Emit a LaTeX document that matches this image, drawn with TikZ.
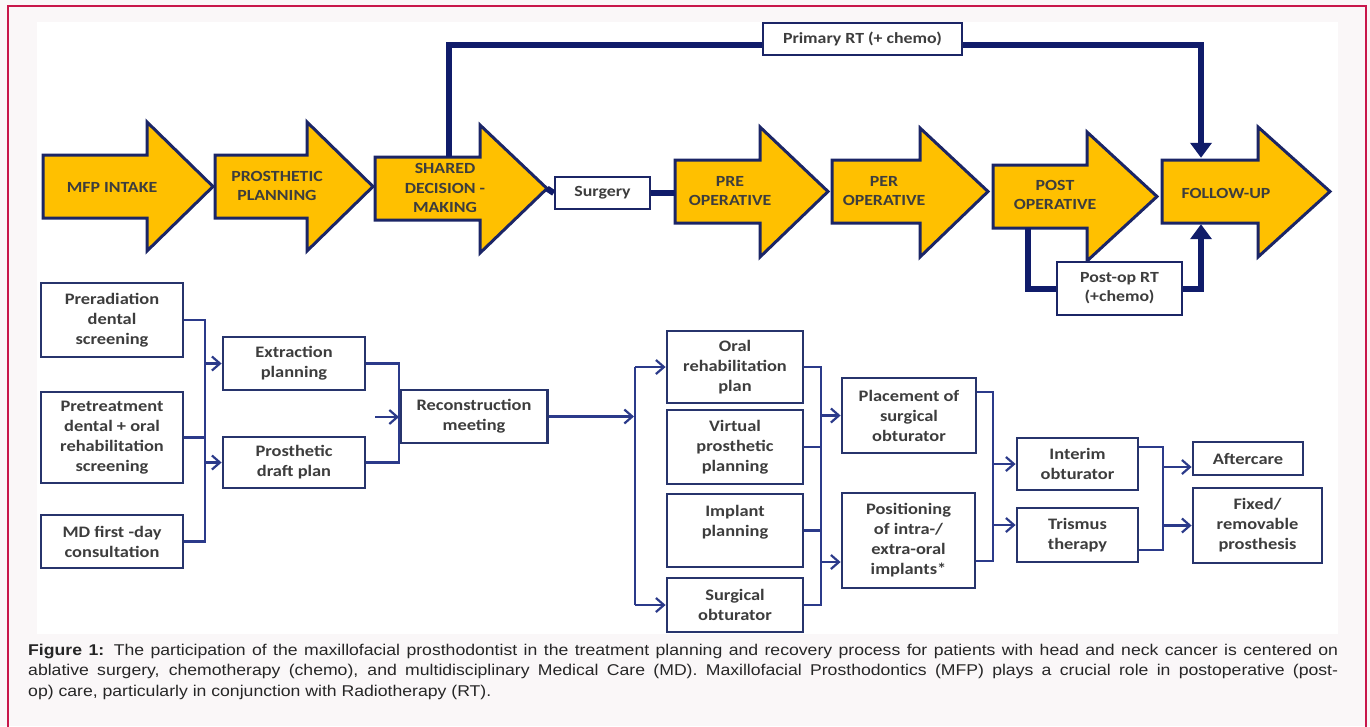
\documentclass[tikz,border=0pt]{standalone}
\usepackage{fontspec}
\usetikzlibrary{arrows.meta,calc}
\newfontfamily\dfont[FakeStretch=1.15]{Carlito}
\newfontfamily\cfont[FakeStretch=1.13]{Liberation Sans}
\definecolor{gold}{HTML}{FFC000}
\definecolor{navy}{HTML}{1B2566}
\definecolor{thickcol}{HTML}{101C6A}
\definecolor{boxc}{HTML}{27346C}
\definecolor{lnc}{HTML}{2B3A8A}
\definecolor{txt}{HTML}{3D3D3D}
\definecolor{bord}{HTML}{C8174B}
\definecolor{pagebg}{HTML}{FAF7F8}
\newcommand\bigarr[8]{%
  \draw[arrowshape] (#2,#3) -- (#5,#3) -- (#5,#6) -- (#8,{(#3+#4)/2}) -- (#5,#7) -- (#5,#4) -- (#2,#4) -- cycle;
  \node[inner sep=0, minimum width={(#5-#2)*1pt}, minimum height={(#4-#3)*1pt}] (#1) at ({(#2+#5)/2},{(#3+#4)/2}) {};
  \coordinate (#1tip) at (#8,{(#3+#4)/2});
}
\begin{document}
\begin{tikzpicture}[x=1pt,y=-1pt,
  arrowshape/.style={fill=gold, draw=navy, line width=3pt, line join=miter},
  atext/.style={text=txt, font=\dfont\bfseries\fontsize{15.5}{19.5}\selectfont, align=center, inner sep=0},
  tbox/.style={draw=navy, fill=white, line width=2.5pt, text=txt, font=\dfont\bfseries\fontsize{15.5}{19}\selectfont, align=center, inner sep=0},
  bbox/.style={draw=boxc, fill=white, line width=2.8pt, text=txt, font=\dfont\bfseries\fontsize{16}{20}\selectfont, align=center, inner sep=0},
  thickc/.style={draw=thickcol, line width=6pt},
  conn/.style={draw=lnc, line width=2.2pt},
  carr/.style={conn, -{Straight Barb[length=8pt,width=14pt]}},
  tarr/.style={thickc, -{Triangle[length=15pt,width=21pt]}}
]
\fill[pagebg] (0,0) rectangle (1370,726);
\useasboundingbox (0,0) rectangle (1370,726);
\fill[white] (37,22) rectangle (1338,634);
\draw[bord, line width=2pt] (8,727) -- (8,6) -- (1366,6) -- (1366,727);

% top flow
\bigarr{a1}{43}{155}{218}{147}{122}{251}{213}
\bigarr{a2}{215}{155}{218}{307}{122}{251}{373}
\bigarr{a3}{375}{157}{220}{480}{125}{253}{547}
\bigarr{a4}{675}{160}{223}{760}{127}{257}{828}
\bigarr{a5}{832}{160}{223}{920}{128}{257}{988}
\bigarr{a6}{993}{165}{228}{1087}{132}{261}{1157}
\bigarr{a7}{1162}{160}{223}{1258}{127}{257}{1330}

\node[atext] (a1t) at (112,187) {MFP INTAKE};
\node[atext] (a2t) at (277,186) {PROSTHETIC\\PLANNING};
\node[atext] (a3t) at (445,188) {SHARED\\DECISION -\\MAKING};
\node[atext] (a4t) at (730,191) {PRE\\OPERATIVE};
\node[atext] (a5t) at (884,191) {PER\\OPERATIVE};
\node[atext] (a6t) at (1055,195) {POST\\OPERATIVE};
\node[atext] (a7t) at (1226,193) {FOLLOW-UP};

\node[tbox, minimum width=199pt, minimum height=32pt] (prim) at (862.5,39) {Primary RT (+ chemo)};
\node[tbox, minimum width=95pt, minimum height=32pt] (surg) at (602.5,193) {Surgery};
\node[tbox, minimum width=125pt, minimum height=53pt] (postop) at (1119.5,288.5) {Post-op RT\\(+chemo)};

\coordinate (sx) at (449,0);
\coordinate (fx) at (1201,0);
\coordinate (px) at (1028,0);
\draw[thickc] (a3.north -| sx) |- ([yshift=-6pt]prim.west);
\draw[tarr] ([yshift=-6pt]prim.east) -| ([yshift=2pt]a7.north -| fx);
\draw[thickc] (a3tip) -- (surg.west);
\draw[thickc] (surg.east) -- (a4.west |- surg.east);
\draw[thickc] (a6.south -| px) |- (postop.west);
\draw[tarr] (postop.east) -| ([yshift=-1pt]a7.south -| fx);

% bottom flow
\node[bbox, minimum width=142pt, minimum height=74pt] (pre) at (112,320) {Preradiation\\dental\\screening};
\node[bbox, minimum width=142pt, minimum height=91pt] (ptr) at (112,437.5) {Pretreatment\\dental + oral\\rehabilitation\\screening};
\node[bbox, minimum width=142pt, minimum height=53pt] (md) at (112,541.5) {MD first -day\\consultation};
\node[bbox, minimum width=142pt, minimum height=53pt] (ext) at (294,363.5) {Extraction\\planning};
\node[bbox, minimum width=142pt, minimum height=51pt] (pdp) at (294,462.5) {Prosthetic\\draft plan};
\node[bbox, minimum width=147pt, minimum height=53pt] (rec) at (474,416.5) {Reconstruction\\meeting};
\node[bbox, minimum width=136pt, minimum height=72pt] (orp) at (735,367) {Oral\\rehabilitation\\plan};
\node[bbox, minimum width=136pt, minimum height=74pt] (vpp) at (735,447) {Virtual\\prosthetic\\planning};
\node[bbox, minimum width=136pt, minimum height=73pt] (imp) at (735,530.5) {Implant\\planning\\~};
\node[bbox, minimum width=136pt, minimum height=54pt] (sob) at (735,605) {Surgical\\obturator};
\node[bbox, minimum width=134pt, minimum height=75pt] (pso) at (909,415.5) {Placement of\\surgical\\obturator};
\node[bbox, minimum width=133pt, minimum height=95pt] (poi) at (908.5,540.5) {Positioning\\of intra-/\\extra-oral\\implants*};
\node[bbox, minimum width=121pt, minimum height=52pt] (int) at (1077.5,464) {Interim\\obturator};
\node[bbox, minimum width=121pt, minimum height=54pt] (tri) at (1077.5,535) {Trismus\\therapy};
\node[bbox, minimum width=110pt, minimum height=33pt] (aft) at (1248,458.5) {Aftercare};
\node[bbox, minimum width=129pt, minimum height=75pt] (fix) at (1257.5,525.5) {Fixed/\\removable\\prosthesis};

\coordinate (v1) at (205,0);
\coordinate (v2) at (399,0);
\coordinate (v3) at (635,0);
\coordinate (v4) at (821,0);
\coordinate (v5) at (993,0);
\coordinate (v6) at (1163,0);

\draw[conn] (pre.east) -| (v1 |- md.east) -- (md.east);
\draw[conn] (ptr.east) -- (v1 |- ptr.east);
\draw[carr] (v1 |- ext.west) -- (ext.west);
\draw[carr] (v1 |- pdp.west) -- (pdp.west);

\draw[conn] (ext.east) -| (v2 |- pdp.east) -- (pdp.east);
\coordinate (recin) at (375,417);
\draw[carr] (recin) -- (v2 |- recin);

\draw[carr] (rec.east) -- ([xshift=-1pt]v3 |- rec.east);
\draw[conn] (v3 |- orp.west) -- (v3 |- sob.west);
\draw[carr] (v3 |- orp.west) -- (orp.west);
\draw[carr] (v3 |- sob.west) -- (sob.west);

\draw[conn] (orp.east) -| (v4 |- sob.east) -- (sob.east);
\draw[conn] (vpp.east) -- (v4 |- vpp.east);
\draw[conn] (imp.east) -- (v4 |- imp.east);
\draw[carr] (v4 |- pso.west) -- (pso.west);
\draw[carr] ([yshift=-21.5pt]v4 |- poi.west) -- ([yshift=-21.5pt]poi.west);

\draw[conn] ([yshift=23.5pt]pso.east) -| ([yshift=-20.5pt]v5 |- poi.east) -- ([yshift=-20.5pt]poi.east);
\draw[carr] (v5 |- int.west) -- (int.west);
\draw[carr] ([yshift=10pt]v5 |- tri.west) -- ([yshift=10pt]tri.west);

\draw[conn] ([yshift=17pt]int.east) -| ([yshift=-15pt]v6 |- tri.east) -- ([yshift=-15pt]tri.east);
\draw[carr] ([yshift=-8.5pt]v6 |- aft.west) -- ([yshift=-8.5pt]aft.west);
\draw[carr] (v6 |- fix.west) -- (fix.west);

% caption
\node[anchor=north west, inner sep=0, text width=1310pt, align=justify, text=black!85,
  font=\cfont\fontsize{15.6}{20.3}\selectfont] (cap) at (28,644)
  {\hyphenpenalty=10000 \textbf{Figure 1:} The participation of the maxillofacial prosthodontist in the treatment planning and recovery process for patients with head and neck cancer is centered on\linebreak ablative surgery, chemotherapy (chemo), and multidisciplinary Medical Care (MD). Maxillofacial Prosthodontics (MFP) plays a crucial role in postoperative (post-\linebreak op) care, particularly in conjunction with Radiotherapy (RT).};
\end{tikzpicture}
\end{document}
